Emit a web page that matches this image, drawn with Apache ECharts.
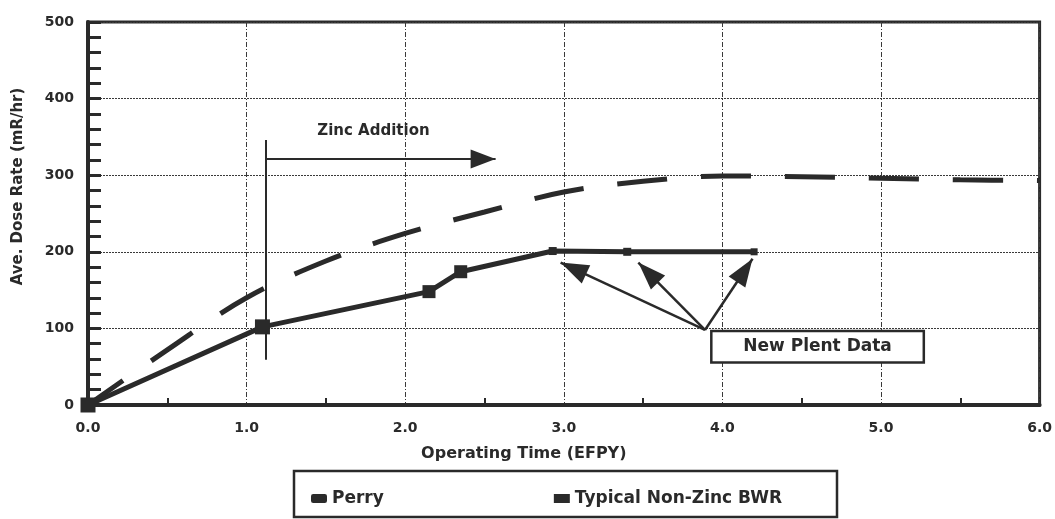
<!DOCTYPE html>
<html>
<head>
<meta charset="utf-8">
<script src="https://cdn.jsdelivr.net/npm/echarts@6/dist/echarts.min.js"></script>
<style>
  html, body { margin: 0; padding: 0; background: #fff; }
  #chart { width: 1055px; height: 519px; }
</style>
</head>
<body>
<div id="chart"></div>
<script>
// Perry plant: average dose rate vs operating time
const perryX = [0, 1.1, 2.15, 2.35, 2.93, 3.4, 4.2];
const perryY = [0, 102, 148, 174, 201, 200, 200];

// Typical non-zinc BWR reference curve
const bwrX = [0, 0.5, 1.0, 1.5, 2.0, 2.5, 3.0, 3.5, 4.0, 4.5, 5.0, 5.5, 6.0];
const bwrY = [0, 72, 140, 188, 224, 252, 278, 292, 299, 298, 296, 294, 293];

// Axis ticks
const xTicks = [0, 1, 2, 3, 4, 5, 6];
const yTicks = [0, 100, 200, 300, 400, 500];

// Annotations (data units)
const zincStart = { x: 1.12, yLow: 59, yHigh: 346, arrowY: 321, arrowEndX: 2.57 };
const zincLabel = { x: 1.8, y: 357, text: 'Zinc Addition' };
const newPlant = { fromX: 3.89, fromY: 98, targetsX: [2.98, 3.47, 4.19], targetsY: [186, 186, 191] };
const newPlantLabel = { x: 4.6, y: 76, text: 'New Plent Data' };

const INK = '#2a2a2a';
const FONT = '"DejaVu Sans", Verdana, sans-serif';

// Filled arrowhead whose tip sits at the centre of its box, so the tip lands on the end point
const ARROW_HEAD = 'path://M0,0M0,25L10,50L-10,50Z';

const chart = echarts.init(document.getElementById('chart'), null, { renderer: 'canvas' });

const perryData = perryX.map((x, i) => [x, perryY[i]]);
const bwrData = bwrX.map((x, i) => [x, bwrY[i]]);
const perrySizes = [15, 15, 13, 13, 8, 8, 7];

const arrowLines = newPlant.targetsX.map((tx, i) => [
  { coord: [newPlant.fromX, newPlant.fromY] },
  { coord: [tx, newPlant.targetsY[i]] }
]);

const option = {
  animation: false,
  backgroundColor: '#fff',
  textStyle: { fontFamily: FONT },
  grid: {
    left: 88, right: 12, top: 22, bottom: 114,
    show: true, borderColor: INK, borderWidth: 3
  },
  legend: {
    left: 306, top: 485,
    itemGap: 170,
    itemWidth: 16, itemHeight: 9,
    textStyle: { fontFamily: FONT, fontSize: 17, fontWeight: 'bold', color: INK },
    data: [
      { name: 'Perry', icon: 'roundRect' },
      { name: 'Typical Non-Zinc BWR', icon: 'rect' }
    ]
  },
  graphic: [{
    type: 'rect',
    shape: { x: 294, y: 471, width: 543, height: 46 },
    style: { fill: 'none', stroke: INK, lineWidth: 2.5 },
    silent: true
  }],
  xAxis: {
    type: 'value',
    min: xTicks[0], max: xTicks[xTicks.length - 1], interval: 1,
    name: 'Operating Time (EFPY)',
    nameLocation: 'middle', nameGap: 41,
    nameTextStyle: { fontFamily: FONT, fontSize: 16, fontWeight: 'bold', color: INK, padding: [0, 80, 0, 0] },
    axisLine: { show: true, lineStyle: { color: INK, width: 4 } },
    axisTick: { show: true, inside: true, length: 1, lineStyle: { color: INK, width: 1 } },
    minorTick: { show: true, splitNumber: 2, length: 7, lineStyle: { color: INK, width: 2 } },
    axisLabel: {
      margin: 16, fontSize: 14, fontWeight: 'bold', color: INK, fontFamily: FONT,
      formatter: v => v.toFixed(1)
    },
    splitLine: { show: true, lineStyle: { color: '#3a3a3a', width: 1, type: [5, 2, 1, 2] } }
  },
  yAxis: {
    type: 'value',
    min: yTicks[0], max: yTicks[yTicks.length - 1], interval: 100,
    name: 'Ave. Dose Rate (mR/hr)',
    nameLocation: 'middle', nameGap: 62,
    nameTextStyle: { fontFamily: FONT, fontSize: 15, fontWeight: 'bold', color: INK, padding: [0, 0, 0, 54] },
    axisLine: { show: true, lineStyle: { color: INK, width: 4 } },
    axisTick: { show: true, inside: true, length: 13, lineStyle: { color: INK, width: 3 } },
    minorTick: { show: true, splitNumber: 5, length: 13, lineStyle: { color: INK, width: 3 } },
    axisLabel: { margin: 14, fontSize: 14, fontWeight: 'bold', color: INK, fontFamily: FONT },
    splitLine: { show: true, lineStyle: { color: '#3a3a3a', width: 1, type: [2, 1] } }
  },
  series: [
    {
      name: 'Typical Non-Zinc BWR',
      type: 'line',
      data: bwrData,
      smooth: 0.35,
      showSymbol: false,
      symbol: 'none',
      itemStyle: { color: INK },
      lineStyle: { color: INK, width: 5, type: [50, 34], dashOffset: 7 },
      silent: true,
      z: 3
    },
    {
      name: 'Perry',
      type: 'line',
      data: perryData,
      symbol: 'rect',
      symbolSize: (val, params) => perrySizes[params.dataIndex],
      itemStyle: { color: INK },
      lineStyle: { color: INK, width: 5 },
      silent: true,
      z: 4,
      markLine: {
        silent: true,
        animation: false,
        label: { show: false },
        data: [
          [
            { coord: [zincStart.x, zincStart.yLow], symbol: 'none', lineStyle: { width: 2, color: INK, type: 'solid' } },
            { coord: [zincStart.x, zincStart.yHigh], symbol: 'none' }
          ],
          [
            { coord: [zincStart.x, zincStart.arrowY], symbol: 'none', lineStyle: { width: 2, color: INK, type: 'solid' } },
            { coord: [zincStart.arrowEndX, zincStart.arrowY], symbol: ARROW_HEAD, symbolSize: [19, 50] }
          ],
          ...arrowLines.map(pair => [
            Object.assign({ symbol: 'none', lineStyle: { width: 2.5, color: INK, type: 'solid' } }, pair[0]),
            Object.assign({ symbol: ARROW_HEAD, symbolSize: [20, 56] }, pair[1])
          ])
        ]
      },
      markPoint: {
        silent: true,
        animation: false,
        symbol: 'rect',
        symbolSize: 0,
        data: [
          {
            coord: [zincLabel.x, zincLabel.y],
            label: {
              show: true, formatter: zincLabel.text, position: 'inside',
              fontFamily: FONT, fontSize: 15, fontWeight: 'bold', color: INK
            }
          },
          {
            coord: [newPlantLabel.x, newPlantLabel.y],
            label: {
              show: true, formatter: newPlantLabel.text, position: 'inside',
              fontFamily: FONT, fontSize: 17, fontWeight: 'bold', color: INK,
              backgroundColor: '#fff', borderColor: INK, borderWidth: 2.5,
              width: 210, height: 29, lineHeight: 29, align: 'center', padding: [0, 0]
            }
          }
        ]
      }
    }
  ]
};

chart.setOption(option);
</script>
</body>
</html>
